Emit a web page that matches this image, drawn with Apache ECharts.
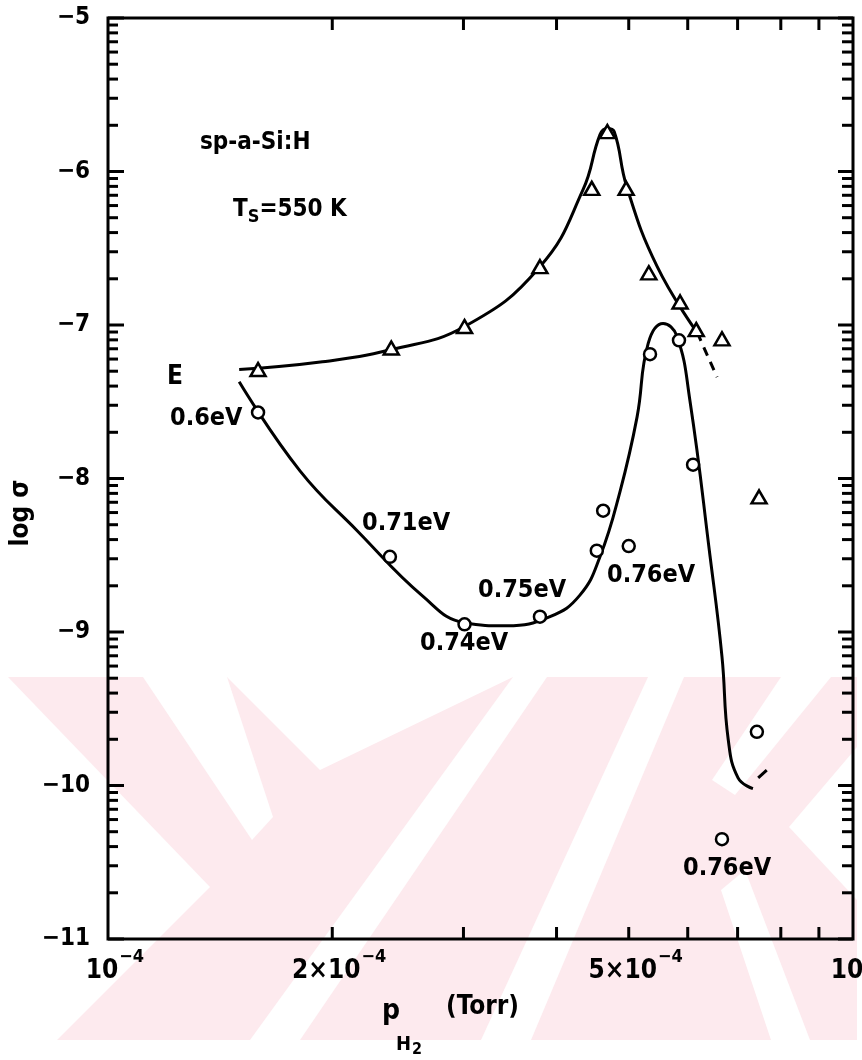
<!DOCTYPE html>
<html>
<head>
<meta charset="utf-8">
<script src="https://cdn.jsdelivr.net/npm/echarts@6/dist/echarts.min.js"></script>
<style>
  html, body { margin: 0; padding: 0; background: #fff; }
  #chart { width: 862px; height: 1060px; }
</style>
</head>
<body>
<div id="chart"></div>
<script>
// pressure p_H2 (Torr) and log(sigma)
const triP   = [1.59e-4, 2.40e-4, 3.01e-4, 3.80e-4, 4.46e-4, 4.68e-4, 4.96e-4, 5.32e-4, 5.86e-4, 6.16e-4, 6.67e-4, 7.48e-4]
const triLog = [-7.29, -7.15, -7.01, -6.62, -6.11, -5.74, -6.11, -6.66, -6.85, -7.03, -7.09, -8.12]

const circP   = [1.59e-4, 2.39e-4, 3.01e-4, 3.80e-4, 4.53e-4, 4.62e-4, 5.00e-4, 5.34e-4, 5.84e-4, 6.10e-4, 6.67e-4, 7.43e-4]
const circLog = [-7.57, -8.51, -8.95, -8.90, -8.47, -8.21, -8.44, -7.19, -7.10, -7.91, -10.35, -9.65]

// hand drawn curves
const upperCurveP   = [1.50e-4, 1.94e-4, 2.40e-4, 3.01e-4, 3.80e-4, 4.34e-4, 4.575e-4, 4.675e-4, 4.78e-4, 4.97e-4, 5.46e-4, 6.18e-4]
const upperCurveLog = [-7.29, -7.24, -7.16, -7.01, -6.62, -6.12, -5.76, -5.72, -5.74, -6.10, -6.62, -7.05]
const upperDashP   = [6.18e-4, 6.57e-4]
const upperDashLog = [-7.05, -7.34]

const lowerCurveP   = [1.50e-4, 1.81e-4, 2.16e-4, 2.65e-4, 3.01e-4, 3.43e-4, 3.92e-4, 4.30e-4, 4.575e-4, 4.87e-4, 5.13e-4, 5.31e-4, 5.56e-4, 5.80e-4, 6.04e-4, 6.43e-4, 6.67e-4, 6.80e-4, 7.01e-4, 7.34e-4]
const lowerCurveLog = [-7.37, -7.95, -8.34, -8.77, -8.94, -8.96, -8.90, -8.76, -8.51, -8.08, -7.60, -7.12, -6.99, -7.07, -7.49, -8.51, -9.16, -9.70, -9.95, -10.02]
const lowerTailP   = [7.46e-4, 7.66e-4]
const lowerTailLog = [-9.95, -9.90]

// axes
const pMin = 1e-4
const pMax = 1e-3
const logMin = -11
const logMax = -5
const xMinorTicks = [2e-4, 3e-4, 4e-4, 5e-4, 6e-4, 7e-4, 8e-4, 9e-4]
const xLabelValues = [1e-4, 2e-4, 5e-4, 1e-3]
const xLabelBase = ['10', '2×10', '5×10', '10']
const xLabelExp = ['−4', '−4', '−4', '−3']
const yMajorTicks = [-11, -10, -9, -8, -7, -6, -5]
const yMinorSteps = [2, 3, 4, 5, 6, 7, 8, 9]

const FONT = "'DejaVu Sans Condensed', 'Liberation Sans Narrow', 'DejaVu Sans', sans-serif"

const pair = (xs, ys) => xs.map((x, i) => [x, ys[i]])

const measureCtx = document.createElement('canvas').getContext('2d')
const textWidth = (t, size) => {
  measureCtx.font = 'bold ' + size + 'px ' + FONT
  return measureCtx.measureText(t).width
}

// tick marks: [x, y, length, vertical?]
const tickData = []
yMajorTicks.forEach(v => {
  tickData.push([pMin, v, 16, 0])
  tickData.push([pMax, v, -15, 0])
})
yMajorTicks.slice(0, -1).forEach(n => {
  yMinorSteps.forEach(k => {
    const v = n + Math.log10(k)
    tickData.push([pMin, v, 10, 0])
    tickData.push([pMax, v, -11, 0])
  })
})
xMinorTicks.forEach(v => {
  tickData.push([v, logMin, 12, 1])
  tickData.push([v, logMax, -12, 1])
})

const chart = echarts.init(document.getElementById('chart'))

const txt = (text, x, y, size, extra) => Object.assign({
  type: 'text', x: x, y: y, z: 5,
  style: { text: text, fill: '#000', fontFamily: FONT, fontSize: size, fontWeight: 'bold', align: 'left', verticalAlign: 'middle' }
}, extra || {})

const pink = '#fdeaee'
const poly = (pts, fill) => ({ type: 'polygon', z: -5, shape: { points: pts }, style: { fill: fill } })

const markStyle = { color: '#fff', borderColor: '#000', borderWidth: 2.5, opacity: 1 }
const curveStyle = { color: '#000', width: 3 }

chart.setOption({
  animation: false,
  backgroundColor: '#fff',
  grid: { left: 108, right: 9, top: 18, bottom: 121, show: true, borderColor: '#000', borderWidth: 3, backgroundColor: 'transparent' },
  xAxis: {
    type: 'log', logBase: 10, min: pMin, max: pMax,
    axisLine: { show: false }, axisTick: { show: false }, axisLabel: { show: false }, splitLine: { show: false }
  },
  yAxis: {
    type: 'value', min: logMin, max: logMax, interval: 1,
    axisLine: { show: false }, axisTick: { show: false }, splitLine: { show: false },
    axisLabel: {
      color: '#000', fontSize: 24, fontFamily: FONT, fontWeight: 'bold', margin: 18,
      formatter: v => String(v).replace('-', '−')
    }
  },
  graphic: [
    // faint watermark of the scan
    { type: 'rect', z: -6, shape: { x: 0, y: 677, width: 857, height: 363 }, style: { fill: pink } },
    poly([[0, 677], [8, 677], [210, 887], [57, 1040], [0, 1040]], '#fff'),
    poly([[143, 677], [227, 677], [273, 817], [252, 840]], '#fff'),
    poly([[227, 677], [513, 677], [320, 770]], '#fff'),
    poly([[513, 677], [547, 677], [300, 1040], [250, 1040]], '#fff'),
    poly([[648, 677], [684, 677], [531, 1040], [481, 1040]], '#fff'),
    poly([[781, 677], [831, 677], [735, 795], [712, 780]], '#fff'),
    poly([[857, 747], [789, 827], [857, 900]], '#fff'),
    poly([[721, 890], [745, 870], [810, 1040], [771, 1040]], '#fff'),

    txt('sp-a-Si:H', 200, 143, 24),
    {
      type: 'text', x: 233, y: 210, z: 5,
      style: {
        text: '{a|T}{s|S}{a|=550 K}', fill: '#000', align: 'left', verticalAlign: 'middle',
        rich: {
          a: { fontFamily: FONT, fontSize: 24, fontWeight: 'bold', lineHeight: 28 },
          s: { fontFamily: FONT, fontSize: 18, fontWeight: 'bold', padding: [14, 0, 0, 0] }
        }
      }
    },
    txt('E', 167, 377, 26),
    txt('0.6eV', 170, 418, 25),
    txt('0.71eV', 362, 523, 25),
    txt('0.75eV', 478, 590, 25),
    txt('0.74eV', 420, 643, 25),
    txt('0.76eV', 607, 575, 25),
    txt('0.76eV', 683, 868, 25),
    txt('log σ', 21, 513, 26, { rotation: Math.PI / 2, style: { text: 'log σ', fill: '#000', fontFamily: FONT, fontSize: 26, fontWeight: 'bold', align: 'center', verticalAlign: 'middle' } }),
    txt('p', 382, 1012, 28),
    txt('H', 396, 1045, 20),
    txt('2', 412, 1050, 16),
    txt('(Torr)', 446, 1007, 26)
  ],
  series: [
    { type: 'line', data: pair(upperCurveP, upperCurveLog), smooth: 0.45, showSymbol: false, symbol: 'none', lineStyle: curveStyle, z: 3 },
    { type: 'line', data: pair(upperDashP, upperDashLog), showSymbol: false, symbol: 'none', lineStyle: { color: '#000', width: 3, type: [9, 7] }, z: 3 },
    { type: 'line', data: pair(lowerCurveP, lowerCurveLog), smooth: 0.45, showSymbol: false, symbol: 'none', lineStyle: curveStyle, z: 3 },
    { type: 'line', data: pair(lowerTailP, lowerTailLog), showSymbol: false, symbol: 'none', lineStyle: curveStyle, z: 3 },
    { type: 'scatter', data: pair(triP, triLog), symbol: 'triangle', symbolSize: [15, 13], itemStyle: markStyle, z: 4 },
    { type: 'scatter', data: pair(circP, circLog), symbol: 'circle', symbolSize: 12, itemStyle: markStyle, z: 4 },
    {
      // axis ticks on all four sides
      type: 'custom', clip: false, silent: true, z: 5,
      data: tickData,
      renderItem: (params, api) => {
        const p = api.coord([api.value(0), api.value(1)])
        const len = api.value(2)
        const vertical = api.value(3) === 1
        return {
          type: 'line',
          shape: vertical
            ? { x1: p[0], y1: p[1], x2: p[0], y2: p[1] - len }
            : { x1: p[0], y1: p[1], x2: p[0] + len, y2: p[1] },
          style: { stroke: '#000', lineWidth: 3 }
        }
      }
    },
    {
      // x tick labels, power of ten with raised exponent
      type: 'custom', clip: false, silent: true, z: 5,
      data: xLabelValues.map((v, i) => [v, logMin, i]),
      renderItem: (params, api) => {
        const p = api.coord([api.value(0), api.value(1)])
        const i = api.value(2)
        const base = xLabelBase[i]
        const cx = p[0] - 6
        const w = textWidth(base, 26)
        return {
          type: 'group',
          children: [
            {
              type: 'text', x: cx, y: p[1] + 19,
              style: { text: base, fill: '#000', fontFamily: FONT, fontSize: 26, fontWeight: 'bold', align: 'center', verticalAlign: 'top' }
            },
            {
              type: 'text', x: cx + w / 2 + 1, y: p[1] + 9,
              style: { text: xLabelExp[i], fill: '#000', fontFamily: FONT, fontSize: 18, fontWeight: 'bold', align: 'left', verticalAlign: 'top' }
            }
          ]
        }
      }
    }
  ]
})
</script>
</body>
</html>
